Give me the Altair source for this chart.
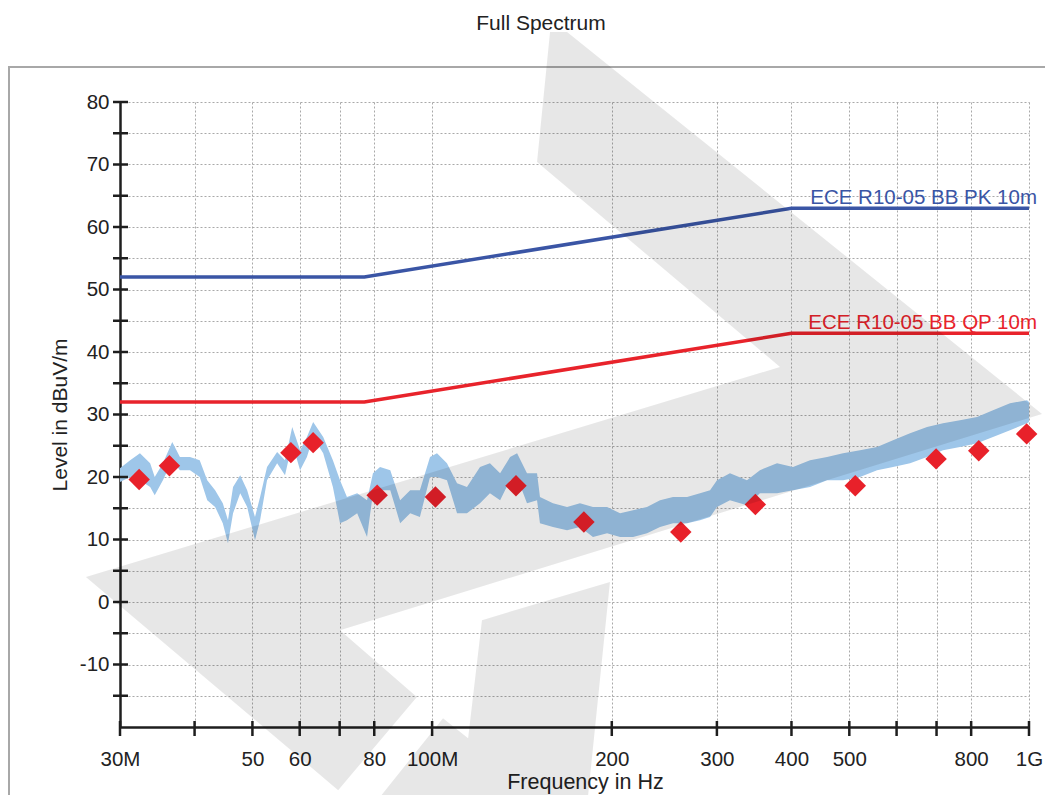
import altair as alt
import pandas as pd

FONT = "Liberation Sans"

# ---------------- data ----------------
# measured spectrum envelope (frequency in MHz, lower / upper level in dBuV/m)
spec_freq = [30.0, 31.2, 32.4, 33.7, 34.3, 35.4, 36.7, 37.8, 39.3, 40.8, 42.0, 43.3, 44.6, 45.5,
             46.4, 47.7, 49.0, 50.5, 51.5, 52.9, 55.0, 56.7, 58.3, 60.1, 61.7, 63.2, 65.7, 68.2,
             70.1, 72.0, 74.9, 77.8, 79.6, 81.8, 85.1, 88.4, 91.9, 95.4, 99.2, 101.9, 105.9,
             110.1, 114.4, 120.3, 125.0, 130.0, 135.1, 138.8, 144.2, 149.9, 151.6, 159.4, 168.3,
             176.9, 186.0, 196.4, 206.5, 217.1, 229.1, 240.9, 253.3, 267.4, 281.1, 292.2, 300.1,
             315.5, 336.9, 354.2, 378.3, 402.4, 429.7, 458.9, 488.0, 521.1, 556.5, 591.8, 632.0,
             674.8, 717.6, 766.3, 818.3, 870.3, 929.4, 992.4, 1000.0]
spec_lo = [19.2, 20.0, 19.5, 18.4, 17.1, 19.5, 22.7, 21.1, 21.1, 20.0, 16.3, 15.2, 12.6, 9.4,
           14.2, 17.4, 15.2, 9.9, 13.1, 19.5, 22.2, 20.3, 25.4, 21.1, 23.2, 26.4, 23.8, 18.4,
           12.6, 13.1, 14.2, 10.4, 17.4, 17.9, 17.9, 12.6, 14.2, 13.6, 20.0, 20.0, 19.5,
           14.2, 14.2, 15.8, 17.4, 16.3, 19.5, 20.0, 15.8, 16.3, 12.6, 12.0, 11.5,
           12.0, 10.4, 11.0, 10.4, 10.4, 11.0, 12.0, 12.6, 12.6, 13.1, 13.6, 15.2,
           16.3, 15.5, 17.4, 17.4, 17.9, 18.4, 19.5, 19.5, 20.0, 21.1, 21.6, 22.2,
           23.2, 24.3, 24.8, 25.4, 26.4, 27.5, 28.6, 28.8]
spec_hi = [21.4, 22.7, 23.8, 22.2, 20.0, 22.2, 25.6, 23.2, 23.2, 22.7, 19.5, 17.9, 15.8, 13.1,
           18.4, 20.3, 17.9, 13.6, 16.8, 21.6, 24.0, 22.7, 28.0, 24.3, 26.4, 28.8, 26.4, 22.7,
           19.5, 16.8, 17.4, 16.3, 20.6, 21.6, 21.1, 16.3, 17.9, 17.9, 23.2, 23.8, 22.2,
           19.0, 18.4, 21.6, 22.2, 20.6, 23.2, 23.8, 20.6, 20.6, 16.8, 15.8, 15.2,
           15.8, 15.2, 15.2, 14.2, 14.7, 15.2, 16.3, 16.8, 16.8, 17.4, 17.9, 19.5,
           20.6, 19.5, 21.1, 22.2, 21.6, 22.7, 23.2, 23.8, 24.3, 24.8, 25.9, 27.0,
           28.0, 28.6, 29.1, 29.6, 30.7, 31.8, 32.3, 32.0]

# final quasi-peak measurements
meas_freq = [32.3, 36.3, 58.0, 63.2, 80.9, 101.3, 138.2, 179.6, 261.0, 348.0, 511.6, 698.8, 823.8, 991.0]
meas_level = [19.6, 21.8, 23.9, 25.5, 17.1, 16.8, 18.6, 12.8, 11.2, 15.6, 18.6, 22.9, 24.2, 26.9]

# limit lines
pk_name = "ECE R10-05 BB PK 10m"
pk_freq = [30, 77, 400, 1000]
pk_level = [52, 52, 63, 63]
qp_name = "ECE R10-05 BB QP 10m"
qp_freq = [30, 77, 400, 1000]
qp_level = [32, 32, 43, 43]

# axes
x_tick_values = [30, 40, 50, 60, 70, 80, 100, 200, 300, 400, 500, 600, 700, 800, 1000]
x_tick_labels = ["30M", "", "50", "60", "", "80", "100M", "200", "300", "400", "500", "", "", "800", "1G"]
y_tick_values = [-15, -10, -5, 0, 5, 10, 15, 20, 25, 30, 35, 40, 45, 50, 55, 60, 65, 70, 75, 80]
y_label_values = [-10, 0, 10, 20, 30, 40, 50, 60, 70, 80]

# decorative background watermark (two polygons, MHz / dBuV/m)
wm_poly = ["a"] * 9 + ["b"] * 6
wm_freq = [157.6, 168.3, 1051.5, 70.1, 94.3, 69.6, 26.3, 382.7, 149.9,
           79.6, 104.3, 114.9, 121.2, 198.6, 181.8]
wm_level = [91.2, 91.2, 30.1, -4.5, -15.2, -30.1, 4.0, 37.6, 70.4,
            -32.6, -18.6, -21.8, -2.9, 3.2, -32.6]

# ---------------- chart ----------------
x_scale = alt.Scale(type="log", domain=[30, 1000], nice=False)
y_scale = alt.Scale(domain=[-20, 80], nice=False, zero=False)

x_expr = " : ".join(f"datum.value == {v} ? '{l}'" for v, l in zip(x_tick_values, x_tick_labels)) + " : ''"
y_expr = "indexof([" + ",".join(str(v) for v in y_label_values) + "], datum.value) >= 0 ? '' + datum.value : ''"

grid_kw = dict(grid=True, gridDash=[2, 2], gridColor="#a9a9a9", gridWidth=1)
x_axis = alt.Axis(values=x_tick_values, labelExpr=x_expr, ticks=False, tickSize=0,
                  domainColor="#1e1e1e", domainWidth=2.5, labelFont=FONT, labelFontSize=20.5,
                  labelColor="#222222", labelPadding=38, labelBaseline="alphabetic",
                  labelFlush=False, labelOverlap=False, labelBound=False,
                  title="Frequency in Hz", titleFont=FONT, titleFontSize=21.5,
                  titleFontWeight="normal", titleColor="#222222", titleX=465, titleY=61,
                  titleAlign="center", titleBaseline="alphabetic", **grid_kw)
y_axis = alt.Axis(values=y_tick_values, labelExpr=y_expr, ticks=False, tickSize=0,
                  domainColor="#1e1e1e", domainWidth=2.5, labelFont=FONT, labelFontSize=20.5,
                  labelColor="#222222", labelPadding=11, labelFlush=False, labelOverlap=False,
                  labelBound=False,
                  title="Level in dBuV/m", titleFont=FONT, titleFontSize=21,
                  titleFontWeight="normal", titleColor="#222222", titleX=-54, titleY=312.5,
                  titleAngle=270, titleAlign="center", titleBaseline="alphabetic", **grid_kw)


def X(field):
    return alt.X(field, scale=x_scale, axis=x_axis)


def Y(field):
    return alt.Y(field, scale=y_scale, axis=y_axis)


spec_df = pd.DataFrame({"f": spec_freq, "lo": spec_lo, "hi": spec_hi})
meas_df = pd.DataFrame({"f": meas_freq, "lv": meas_level})
lim_df = pd.DataFrame({
    "f": pk_freq + qp_freq,
    "lv": pk_level + qp_level,
    "name": [pk_name] * len(pk_freq) + [qp_name] * len(qp_freq),
})
lab_df = pd.DataFrame({"f": [pk_freq[-1], qp_freq[-1]], "lv": [pk_level[-1], qp_level[-1]],
                       "name": [pk_name, qp_name]})
lim_colors = alt.Scale(domain=[pk_name, qp_name], range=["#3a55a5", "#e8232b"])
xt_df = pd.DataFrame({"f": x_tick_values})
yt_df = pd.DataFrame({"lv": y_tick_values})
wm_df = pd.DataFrame({"f": wm_freq, "lv": wm_level, "poly": wm_poly, "k": list(range(len(wm_freq)))})
one = pd.DataFrame({"d": [0]})

spectrum = alt.Chart(spec_df).mark_area(color="#9ec6e9").encode(
    x=X("f:Q"), y=Y("lo:Q"), y2="hi:Q",
)
limits = alt.Chart(lim_df).mark_line(strokeWidth=3.5).encode(
    x=X("f:Q"), y=Y("lv:Q"),
    color=alt.Color("name:N", scale=lim_colors, legend=None),
    detail="name:N",
)
labels = alt.Chart(lab_df).mark_text(font=FONT, fontSize=20.5, align="right",
                                     baseline="alphabetic", dx=8, dy=-4).encode(
    x=X("f:Q"), y=Y("lv:Q"),
    text="name:N",
    color=alt.Color("name:N", scale=lim_colors, legend=None),
)
points = alt.Chart(meas_df).mark_point(shape="diamond", filled=True, size=460,
                                       color="#e8212a", opacity=1).encode(
    x=X("f:Q"), y=Y("lv:Q"),
)
yticks = alt.Chart(yt_df).mark_rule(color="#1e1e1e", strokeWidth=2.5).encode(
    y=Y("lv:Q"), x=alt.value(-7), x2=alt.value(8))
xticks = alt.Chart(xt_df).mark_rule(color="#1e1e1e", strokeWidth=2.5).encode(
    x=X("f:Q"), y=alt.value(619), y2=alt.value(634))
frame_top = alt.Chart(one).mark_rule(color="#a8a8a8", strokeWidth=2).encode(
    x=alt.value(-111), x2=alt.value(960), y=alt.value(-35))
frame_left = alt.Chart(one).mark_rule(color="#a8a8a8", strokeWidth=2).encode(
    x=alt.value(-111), y=alt.value(-36), y2=alt.value(720))
title = alt.Chart(one).mark_text(text="Full Spectrum", font=FONT, fontSize=21, color="#222222",
                                 align="center", baseline="alphabetic").encode(
    x=alt.value(421), y=alt.value(-72))
watermark = alt.Chart(wm_df).mark_line(filled=True, fill="#000000", fillOpacity=0.095,
                                       strokeWidth=0, clip=False).encode(
    x=X("f:Q"), y=Y("lv:Q"),
    detail="poly:N",
    order="k:Q",
)

chart = alt.layer(
    spectrum, frame_top, frame_left, limits, labels, points, yticks, xticks, title, watermark
).properties(
    width=909, height=625,
    padding={"left": 112, "top": 94, "right": 16, "bottom": 68},
    autosize=alt.AutoSizeParams(type="none"),
    background="white",
).configure_view(strokeWidth=0)

chart.save("out.html", embed_options={"renderer": "svg", "actions": False})
